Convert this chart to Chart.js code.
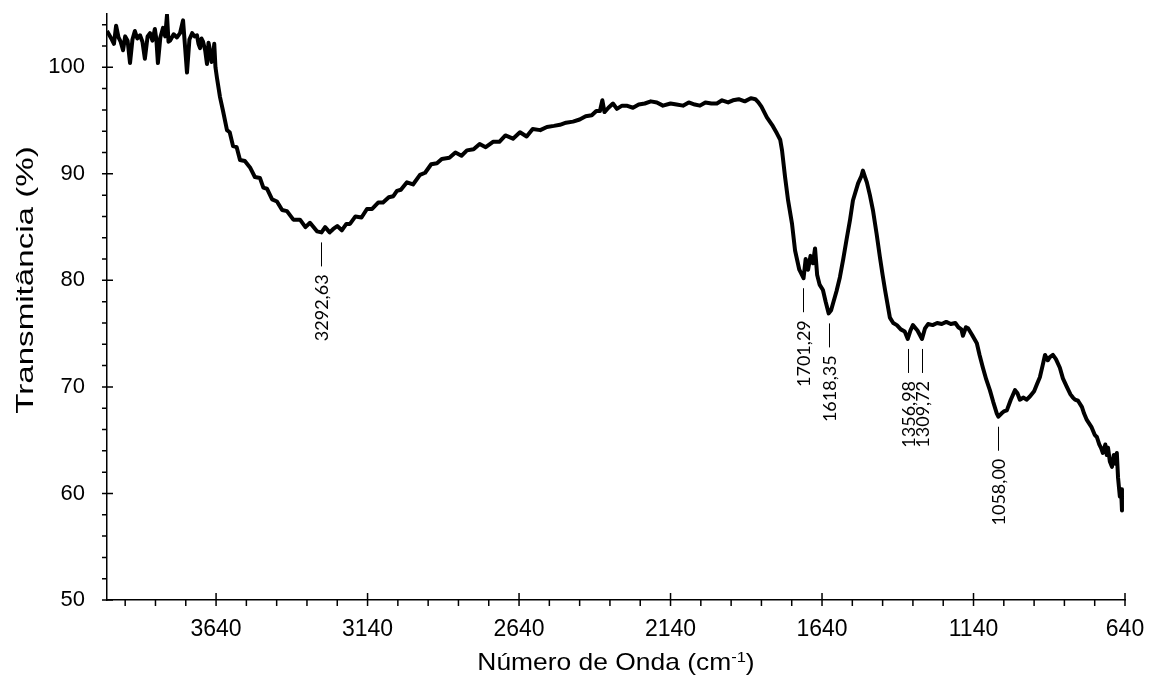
<!DOCTYPE html>
<html>
<head>
<meta charset="utf-8">
<script src="https://cdn.jsdelivr.net/npm/chart.js@4.4.1/dist/chart.umd.min.js"></script>
<style>
  html, body { margin: 0; padding: 0; background: #fff; }
</style>
</head>
<body>
<canvas id="ftirChart" width="1153" height="682"></canvas>
<script>
// FTIR spectrum (cm-1 -> %T)
var wavenumbers = [
  4000, 3992, 3984, 3977, 3970, 3962, 3955, 3947, 3940, 3932,
  3924, 3916, 3908, 3900, 3891, 3883, 3875, 3866, 3858, 3850,
  3842, 3837, 3832, 3824, 3815, 3808, 3802, 3797, 3792, 3780,
  3769, 3759, 3749, 3742, 3736, 3728, 3719, 3711, 3703, 3698,
  3693, 3688, 3683, 3676, 3670, 3665, 3660, 3655, 3650, 3646,
  3642, 3637, 3627, 3617, 3604, 3595, 3584, 3572, 3561, 3545,
  3528, 3512, 3495, 3484, 3472, 3455, 3439, 3422, 3406, 3385,
  3363, 3345, 3330, 3307, 3292, 3280, 3265, 3254, 3240, 3225,
  3210, 3198, 3180, 3160, 3142, 3125, 3105, 3089, 3070, 3055,
  3043, 3030, 3010, 2990, 2967, 2950, 2930, 2911, 2895, 2870,
  2850, 2830, 2812, 2790, 2770, 2750, 2726, 2705, 2685, 2660,
  2637, 2615, 2595, 2570, 2548, 2525, 2505, 2485, 2462, 2440,
  2420, 2400, 2385, 2373, 2365, 2358, 2345, 2330, 2317, 2300,
  2285, 2264, 2245, 2225, 2205, 2185, 2165, 2140, 2120, 2099,
  2080, 2060, 2043, 2025, 2005, 1987, 1970, 1950, 1934, 1915,
  1895, 1875, 1860, 1850, 1840, 1822, 1805, 1789, 1778, 1772,
  1762, 1752, 1739, 1729, 1715, 1701, 1694, 1686, 1678, 1670,
  1663, 1656, 1648, 1637, 1628, 1618, 1610, 1604, 1592, 1581,
  1570, 1558, 1548, 1538, 1521, 1510, 1505, 1498, 1492, 1482,
  1472, 1460, 1449, 1440, 1432, 1416, 1405, 1393, 1380, 1367,
  1357, 1348, 1340, 1325, 1310, 1300, 1290, 1275, 1260, 1245,
  1230, 1215, 1200, 1190, 1180, 1175, 1165, 1158, 1145, 1129,
  1120, 1109, 1098, 1086, 1075, 1063, 1058, 1048, 1040, 1030,
  1017, 1003, 995, 987, 975, 965, 954, 940, 930, 921,
  912, 904, 895, 888, 878, 868, 855, 845, 832, 820,
  812, 805, 795, 782, 775, 766, 750, 740, 733, 725,
  718, 713, 705, 700, 696, 690, 683, 677, 672, 667,
  663, 657, 653, 650
];

var transmittance = [
  103.4, 103.0, 102.6, 102.2, 103.9, 102.8, 102.4, 101.6, 102.9, 102.5,
  100.4, 102.6, 103.4, 102.7, 103.0, 102.4, 100.8, 102.9, 103.2, 102.5,
  103.6, 102.6, 100.4, 102.8, 103.7, 102.9, 104.9, 102.4, 102.5, 103.1,
  102.8, 103.2, 104.4, 101.8, 99.5, 102.6, 103.2, 102.9, 103.0, 102.2,
  101.8, 102.7, 102.4, 101.6, 100.3, 102.3, 101.6, 100.5, 100.9, 102.2,
  100.0, 99.0, 97.2, 95.9, 94.1, 93.9, 92.6, 92.5, 91.3, 91.2,
  90.6, 89.7, 89.6, 88.7, 88.6, 87.6, 87.4, 86.6, 86.5, 85.7,
  85.7, 85.0, 85.4, 84.6, 84.5, 85.0, 84.5, 84.8, 85.1, 84.7,
  85.3, 85.3, 86.0, 85.9, 86.7, 86.7, 87.3, 87.3, 87.8, 87.9,
  88.4, 88.5, 89.2, 89.0, 89.9, 90.1, 90.9, 91.0, 91.4, 91.5,
  92.0, 91.7, 92.2, 92.3, 92.8, 92.5, 93.0, 93.0, 93.6, 93.3,
  93.9, 93.5, 94.2, 94.1, 94.4, 94.5, 94.6, 94.8, 94.9, 95.1,
  95.4, 95.5, 95.9, 95.9, 96.9, 95.8, 96.2, 96.6, 96.1, 96.4,
  96.4, 96.2, 96.5, 96.6, 96.8, 96.7, 96.4, 96.6, 96.5, 96.4,
  96.7, 96.5, 96.4, 96.7, 96.6, 96.6, 96.9, 96.7, 96.9, 97.0,
  96.8, 97.1, 97.0, 96.7, 96.3, 95.3, 94.6, 93.8, 93.2, 92.2,
  89.7, 87.5, 85.3, 82.8, 81.0, 80.2, 82.0, 81.0, 82.3, 81.6,
  83.0, 80.5, 79.6, 79.1, 78.0, 76.9, 77.2, 77.8, 79.0, 80.3,
  82.0, 84.0, 85.6, 87.5, 89.1, 89.8, 90.3, 89.7, 89.2, 88.0,
  86.6, 84.4, 82.2, 80.5, 79.1, 76.5, 76.0, 75.8, 75.4, 75.2,
  74.5, 75.3, 75.8, 75.3, 74.5, 75.5, 75.9, 75.8, 76.0, 75.9,
  76.1, 75.9, 76.0, 75.6, 75.4, 74.8, 75.6, 75.5, 74.9, 74.1,
  73.0, 71.8, 70.7, 69.7, 68.6, 67.5, 67.2, 67.5, 67.7, 67.8,
  68.8, 69.7, 69.4, 68.8, 69.0, 68.8, 69.1, 69.6, 70.3, 70.9,
  72.0, 73.0, 72.5, 72.8, 73.0, 72.6, 71.8, 70.8, 70.0, 69.3,
  69.0, 68.8, 68.7, 68.1, 67.5, 66.9, 66.2, 65.5, 65.3, 64.6,
  64.2, 63.8, 64.6, 63.6, 64.3, 63.0, 62.5, 63.6, 62.8, 63.8,
  61.5, 59.7, 60.4, 58.4
];

// marked bands
var peakWaves = [3292.63, 1701.29, 1618.35, 1356.98, 1309.72, 1058.00];
var peakLabels = ['3292,63', '1701,29', '1618,35', '1356,98', '1309,72', '1058,00'];

// axes
var xMajorTicks = [3640, 3140, 2640, 2140, 1640, 1140, 640];
var yMajorTicks = [50, 60, 70, 80, 90, 100];
var xMinorStep = 100;
var yMinorStep = 2;

var yTickFont = { family: "'Liberation Sans', Arial, sans-serif", size: 22 };
var xTickFont = { family: "'Liberation Sans', Arial, sans-serif", size: 23 };

function curveAt(w) {
    var best = 0;
    for (var i = 1; i < wavenumbers.length; i++) {
        if (Math.abs(wavenumbers[i] - w) < Math.abs(wavenumbers[best] - w)) best = i;
    }
    return transmittance[best];
}

var spectrumDecor = {
    id: 'spectrumDecor',
    afterDraw: function (chart) {
        var ctx = chart.ctx, a = chart.chartArea;
        var xs = chart.scales.x, ys = chart.scales.y;
        ctx.save();

        // tick marks: majors cross the axis line, minors sit outside
        ctx.strokeStyle = '#000';
        ctx.lineWidth = 1.5;
        ctx.beginPath();
        for (var w = xs.min; w <= xs.max; w += xMinorStep) {
            var px = xs.getPixelForValue(w);
            var major = xMajorTicks.indexOf(w) >= 0;
            ctx.moveTo(px, a.bottom - (major ? 7 : 0));
            ctx.lineTo(px, a.bottom + 6);
        }
        for (var v = ys.min; v < ys.max; v += yMinorStep) {
            var py = ys.getPixelForValue(v);
            var ymaj = yMajorTicks.indexOf(v) >= 0;
            ctx.moveTo(a.left - 5, py);
            ctx.lineTo(a.left + (ymaj ? 6 : 0), py);
        }
        ctx.stroke();

        // peak labels
        ctx.fillStyle = '#000';
        ctx.lineWidth = 1;
        ctx.font = "18px Lato, 'Noto Sans', sans-serif";
        peakWaves.forEach(function (pw, i) {
            var px = Math.round(xs.getPixelForValue(pw)) + 0.5;
            var top = ys.getPixelForValue(curveAt(pw)) + 10;
            ctx.beginPath();
            ctx.moveTo(px, top);
            ctx.lineTo(px, top + 24);
            ctx.stroke();
            ctx.save();
            ctx.translate(px + 1, top + 32);
            ctx.rotate(-Math.PI / 2);
            ctx.textAlign = 'right';
            ctx.textBaseline = 'middle';
            ctx.fillText(peakLabels[i], 0, 0);
            ctx.restore();
        });

        // axis titles
        ctx.font = "24px 'Liberation Sans', Arial, sans-serif";
        ctx.save();
        ctx.translate(a.left - 81, a.top + (a.bottom - a.top) * 0.454);
        ctx.rotate(-Math.PI / 2);
        ctx.scale(1.38, 1);
        ctx.textAlign = 'center';
        ctx.textBaseline = 'middle';
        ctx.fillText('Transmitância (%)', 0, 0);
        ctx.restore();

        var t1 = 'Número de Onda (cm', t2 = '-1', t3 = ')';
        ctx.textAlign = 'left';
        ctx.textBaseline = 'alphabetic';
        var w1 = ctx.measureText(t1).width, w3 = ctx.measureText(t3).width;
        ctx.font = "15px 'Liberation Sans', Arial, sans-serif";
        var w2 = ctx.measureText(t2).width;
        var total = w1 + w2 + w3;
        ctx.save();
        ctx.translate((a.left + a.right) / 2, a.bottom + 70);
        ctx.scale(1.1, 1);
        ctx.font = "24px 'Liberation Sans', Arial, sans-serif";
        ctx.fillText(t1, -total / 2, 0);
        ctx.fillText(t3, -total / 2 + w1 + w2, 0);
        ctx.font = "15px 'Liberation Sans', Arial, sans-serif";
        ctx.fillText(t2, -total / 2 + w1, -8);
        ctx.restore();

        ctx.restore();
    }
};

var ctx = document.getElementById('ftirChart').getContext('2d');

var chart = new Chart(ctx, {
    type: 'line',
    data: {
        datasets: [{
            label: 'Transmitância',
            data: wavenumbers.map(function (w, i) { return { x: w, y: transmittance[i] }; }),
            borderColor: '#000',
            borderWidth: 4,
            borderJoinStyle: 'round',
            pointRadius: 0,
            tension: 0,
            fill: false
        }]
    },
    options: {
        responsive: false,
        animation: false,
        layout: { padding: { top: 14, right: 28, left: 0, bottom: 0 } },
        plugins: {
            legend: { display: false },
            tooltip: { enabled: false }
        },
        scales: {
            x: {
                type: 'linear',
                reverse: true,
                min: 640,
                max: 4000,
                afterBuildTicks: function (scale) {
                    scale.ticks = xMajorTicks.map(function (v) { return { value: v }; });
                },
                afterFit: function (scale) {
                    scale.height = 82;
                    scale.paddingLeft = 0;
                    scale.paddingRight = 0;
                },
                grid: { display: false, drawTicks: false },
                border: { display: true, color: '#000', width: 1.5 },
                ticks: {
                    color: '#000', font: xTickFont, padding: 16, maxRotation: 0, autoSkip: false,
                    callback: function (v) { return String(v); }
                }
            },
            y: {
                min: 50,
                max: 105,
                afterBuildTicks: function (scale) {
                    scale.ticks = yMajorTicks.map(function (v) { return { value: v }; });
                },
                afterFit: function (scale) {
                    scale.width = 107;
                    scale.paddingTop = 0;
                    scale.paddingBottom = 0;
                },
                grid: { display: false, drawTicks: false },
                border: { display: true, color: '#000', width: 1.5 },
                ticks: {
                    color: '#000', font: yTickFont, padding: 22,
                    callback: function (v) { return String(v); }
                }
            }
        }
    },
    plugins: [spectrumDecor]
});
</script>
</body>
</html>
